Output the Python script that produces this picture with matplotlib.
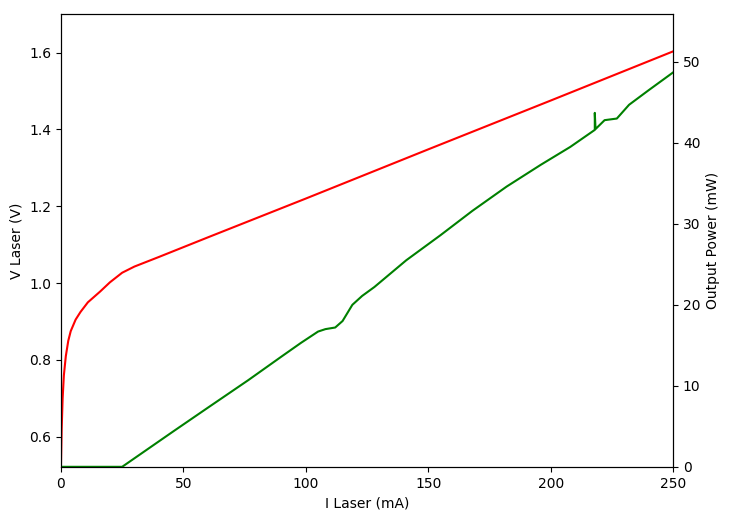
import matplotlib
matplotlib.use('Agg')
import matplotlib.pyplot as plt

# Laser current sweep (mA) and measured voltage (V)
i_volt = [0, 0.3, 0.7, 1.2, 2, 3, 4, 6, 8, 11, 16, 20, 25, 30, 40, 60, 100, 150, 200, 250]
v_laser = [0.52, 0.62, 0.70, 0.76, 0.81, 0.85, 0.875, 0.905, 0.925, 0.95, 0.978, 1.002,
           1.027, 1.043, 1.068, 1.119, 1.220, 1.348, 1.475, 1.603]

# Current (mA) and optical output power (mW)
i_power = [0, 25, 46, 60, 76.5, 90, 98, 105, 108, 112, 115, 119, 123, 128, 141, 155, 168,
           182, 196, 208, 218, 218, 218.3, 222, 227, 232, 240, 250]
p_out = [0, 0, 4.4, 7.3, 10.7, 13.6, 15.3, 16.7, 17.0, 17.2, 18.0, 20.0, 21.1, 22.2, 25.5,
         28.6, 31.6, 34.6, 37.3, 39.5, 41.6, 43.7, 41.7, 42.8, 43.0, 44.7, 46.5, 48.7]

fig, ax1 = plt.subplots(figsize=(7.43, 5.21), dpi=100)
fig.subplots_adjust(left=0.082, right=0.906, top=0.973, bottom=0.104)

ax1.plot(i_volt, v_laser, color='red')
ax1.set_xlabel('I Laser (mA)')
ax1.set_ylabel('V Laser (V)')
ax1.set_xlim(0, 250)
ax1.set_ylim(0.522, 1.7)

ax2 = ax1.twinx()
ax2.plot(i_power, p_out, color='green')
ax2.set_ylabel('Output Power (mW)')
ax2.set_ylim(0, 55.9)

fig.savefig('out.png')
